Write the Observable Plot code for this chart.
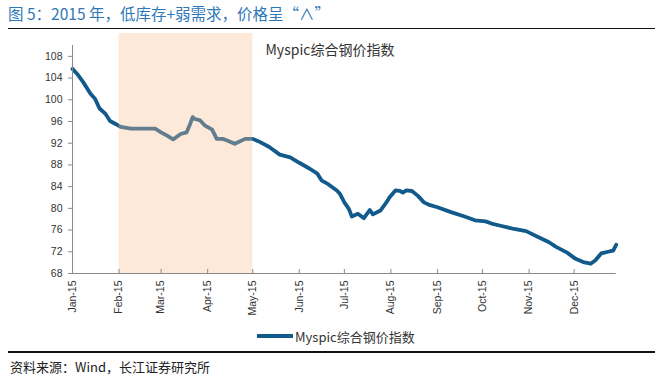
<!DOCTYPE html>
<html><head><meta charset="utf-8">
<script src="https://cdn.jsdelivr.net/npm/d3@7"></script>
<script src="https://cdn.jsdelivr.net/npm/@observablehq/plot@0.6"></script>
<style>
body{margin:0;width:663px;height:380px;position:relative;background:#fff;overflow:hidden;font-family:"Liberation Sans","Noto Sans CJK SC",sans-serif;}
#title{position:absolute;left:8px;top:2px;font-family:"Noto Sans CJK SC",sans-serif;font-size:15.5px;line-height:22px;color:#2f78b8;white-space:nowrap;}
.rule{position:absolute;left:8px;width:647px;background:#111;}
#chart{position:absolute;left:0;top:30px;}
#legend{position:absolute;left:257px;top:326px;height:20px;display:flex;align-items:center;font-family:"Noto Sans CJK SC",sans-serif;font-size:13px;color:#333;white-space:nowrap;}
#legend .sw{display:inline-block;width:36px;height:3.5px;background:#115a8b;margin-right:2px;}
#source{position:absolute;left:10px;top:357px;font-family:"Noto Sans CJK SC",sans-serif;font-size:13px;line-height:20px;color:#222;white-space:nowrap;}
</style></head>
<body>
<div id="title">图 5：2015 年，低库存+弱需求，价格呈“∧”</div>
<div class="rule" style="top:28px;height:1px"></div>
<div id="chart"></div>
<div id="legend"><span class="sw"></span><span>Myspic综合钢价指数</span></div>
<div class="rule" style="top:351px;height:2px"></div>
<div id="source">资料来源：Wind，长江证券研究所</div>
<script>
const seriesName = "Myspic综合钢价指数";
const dates = ["2015-01-01","2015-01-04","2015-01-08","2015-01-13","2015-01-16","2015-01-19","2015-01-23","2015-01-26","2015-01-30",
"2015-02-02","2015-02-09","2015-02-25","2015-03-01","2015-03-05","2015-03-09","2015-03-11","2015-03-14","2015-03-18","2015-03-20",
"2015-03-22","2015-03-23","2015-03-27","2015-03-30","2015-04-04","2015-04-07","2015-04-11","2015-04-14","2015-04-19","2015-04-26",
"2015-05-01","2015-05-06","2015-05-12","2015-05-19","2015-05-26","2015-06-01","2015-06-08","2015-06-13","2015-06-16","2015-06-20",
"2015-06-26","2015-06-28","2015-07-01","2015-07-04","2015-07-06","2015-07-10","2015-07-14","2015-07-18","2015-07-20","2015-07-25",
"2015-07-29","2015-07-31","2015-08-04","2015-08-07","2015-08-09","2015-08-11","2015-08-15","2015-08-19","2015-08-23","2015-08-26",
"2015-09-01","2015-09-10","2015-09-19","2015-09-26","2015-10-03","2015-10-07","2015-10-13","2015-10-22","2015-10-30","2015-11-08",
"2015-11-14","2015-11-19","2015-11-26","2015-12-02","2015-12-07","2015-12-12","2015-12-15","2015-12-19","2015-12-25","2015-12-27","2015-12-29"];
const values = [105.7,104.8,103.3,101.1,100.2,98.4,97.4,96.1,95.5,
95.0,94.7,94.7,94.0,93.4,92.7,93.1,93.7,94.0,95.3,
96.8,96.5,96.2,95.3,94.5,92.8,92.8,92.5,91.9,92.8,
92.8,92.2,91.3,89.9,89.4,88.4,87.3,86.4,85.1,84.5,
83.3,82.7,81.1,79.9,78.5,79.0,78.2,79.7,78.9,79.6,
81.1,82.0,83.3,83.2,82.9,83.3,83.2,82.3,81.1,80.7,
80.2,79.3,78.5,77.8,77.6,77.2,76.8,76.2,75.8,74.6,
73.8,72.9,71.9,70.7,70.1,69.8,70.4,71.7,72.1,72.2,73.3];
const monthTicks = ["2015-01-01","2015-02-01","2015-03-01","2015-04-01","2015-05-01","2015-06-01","2015-07-01","2015-08-01","2015-09-01","2015-10-01","2015-11-01","2015-12-01"];
const yTicks = [68,72,76,80,84,88,92,96,100,104,108];
const xDomain = ["2015-01-01","2015-12-29"];
const yDomain = [68,110];
const shadeStart = "2015-02-01", shadeEnd = "2015-05-01";

const parse = d3.utcParse("%Y-%m-%d");
const data = dates.map((d,i)=>({date: parse(d), value: values[i]}));
const ticks = monthTicks.map(parse);
const shade = [{start: parse(shadeStart), end: parse(shadeEnd)}];
const font = '"Liberation Sans","Noto Sans CJK SC",sans-serif';

const chart = Plot.plot({
  width: 663, height: 290,
  marginTop: 15, marginBottom: 47, marginLeft: 72, marginRight: 47.3,
  style: {fontFamily: font, fontSize: "10.5px", color: "#333", background: "transparent"},
  x: {type: "utc", domain: xDomain.map(parse)},
  y: {domain: yDomain},
  marks: [
    Plot.line(data, {x: "date", y: "value", stroke: "#115a8b", strokeWidth: 3.8, strokeLinejoin: "round", strokeLinecap: "round"}),
    Plot.rect(shade, {x1: "start", x2: "end", fill: "#f9c092", fillOpacity: 0.35, insetTop: -12}),
    Plot.ruleY([yDomain[0]], {stroke: "#8a8a8a", strokeWidth: 1}),
    Plot.ruleX([parse(xDomain[0])], {stroke: "#8a8a8a", strokeWidth: 1}),
    Plot.ruleX(ticks, {x: d=>d, y1: yDomain[0], y2: yDomain[0], insetTop: -4, stroke: "#8a8a8a"}),
    Plot.axisY({ticks: yTicks, tickSize: 4, tickPadding: 6, stroke: "#8a8a8a", fontSize: 10.5, fill: "#333", label: null}),
    Plot.axisX({ticks: ticks, tickSize: 0, tickPadding: 7, tickRotate: -90, tickFormat: d3.utcFormat("%b-%y"), fontSize: 10.5, fill: "#333", label: null}),
    Plot.text([seriesName], {frameAnchor: "top-left", textAnchor: "start", lineAnchor: "middle", dx: 193, dy: 5, fontSize: 14, fill: "#333", fontFamily: '"Noto Sans CJK SC",sans-serif'})
  ]
});
document.getElementById("chart").appendChild(chart);
</script>
</body></html>
